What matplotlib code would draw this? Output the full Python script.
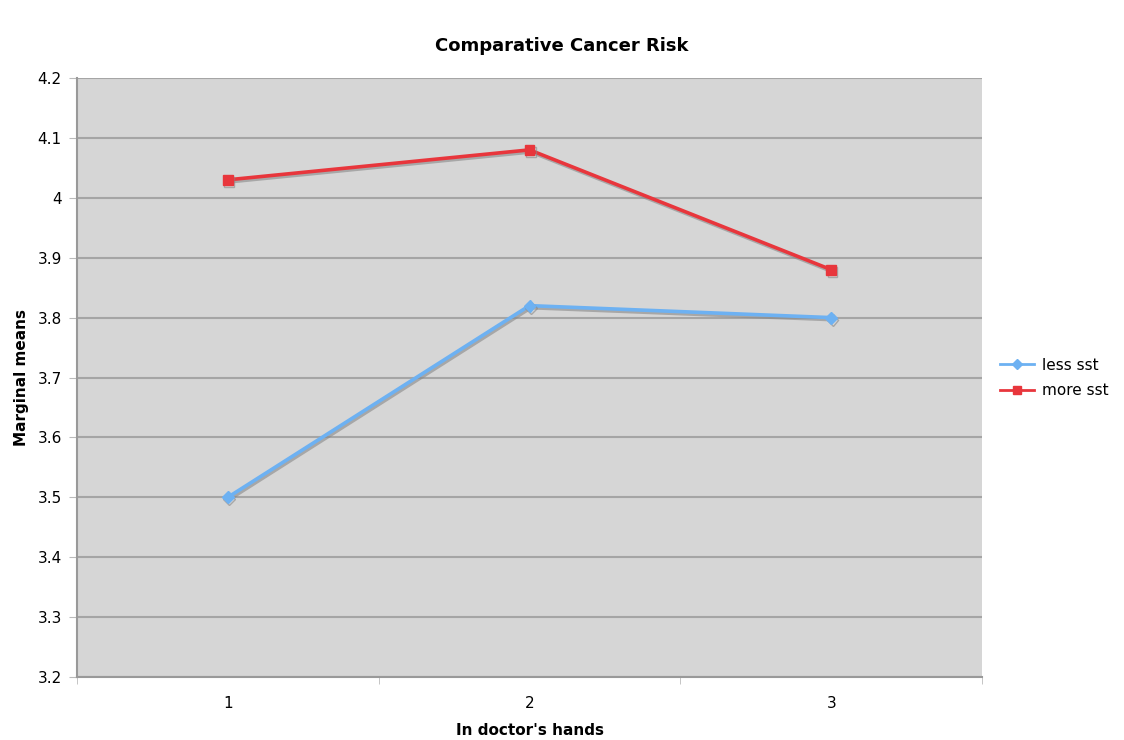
import matplotlib.pyplot as plt
import matplotlib.patheffects as pe
from matplotlib.lines import Line2D

x = [1, 2, 3]
less_sst = [3.50, 3.82, 3.80]
more_sst = [4.03, 4.08, 3.88]
yticks = [3.2, 3.3, 3.4, 3.5, 3.6, 3.7, 3.8, 3.9, 4.0, 4.1, 4.2]
ylabels = ["3.2", "3.3", "3.4", "3.5", "3.6", "3.7", "3.8", "3.9", "4", "4.1", "4.2"]

blue = "#6db1f2"
red = "#e8363c"

fig = plt.figure(figsize=(11.24, 7.4), dpi=100)
ax = fig.add_axes([0.0685, 0.0851, 0.8052, 0.8095])
ax.set_facecolor("#d6d6d6")

shadow = [pe.SimpleLineShadow(offset=(1, -1.5), shadow_color="#888888", alpha=0.6), pe.Normal()]
ax.plot(x, less_sst, color=blue, lw=2.6, marker="D", ms=6, path_effects=shadow, zorder=3)
ax.plot(x, more_sst, color=red, lw=2.6, marker="s", ms=7, path_effects=shadow, zorder=3)

ax.set_xlim(0.5, 3.5)
ax.set_ylim(3.2, 4.2)
ax.set_xticks(x)
ax.set_xticks([0.5, 1.5, 2.5, 3.5], minor=True)
ax.tick_params(axis="x", which="major", length=0, pad=14)
ax.tick_params(axis="x", which="minor", length=5, color="#bbbbbb")
ax.set_yticks(yticks)
ax.set_yticklabels(ylabels)
ax.tick_params(axis="y", length=6, color="#bbbbbb", pad=5)
ax.tick_params(labelsize=11)
ax.grid(axis="y", color="#a5a5a5", lw=1.5)
ax.set_axisbelow(True)
for s in ["top", "right"]:
    ax.spines[s].set_visible(False)
ax.spines["left"].set_color("#999999")
ax.spines["bottom"].set_color("#999999")
ax.spines["left"].set_linewidth(1.5)
ax.spines["bottom"].set_linewidth(1.5)

ax.set_xlabel("In doctor's hands", fontsize=11, fontweight="bold", labelpad=8)
ax.set_ylabel("Marginal means", fontsize=11, fontweight="bold", labelpad=6)
fig.suptitle("Comparative Cancer Risk", fontsize=13, fontweight="bold", y=0.95)

handles = [Line2D([], [], color=blue, lw=2, marker="D", ms=5),
           Line2D([], [], color=red, lw=2, marker="s", ms=6)]
ax.legend(handles, ["less sst", "more sst"], loc="center left",
          bbox_to_anchor=(1.005, 0.499), frameon=False, fontsize=11,
          handlelength=2.2, handletextpad=0.5, labelspacing=0.7)

fig.savefig("out.png", dpi=100)
